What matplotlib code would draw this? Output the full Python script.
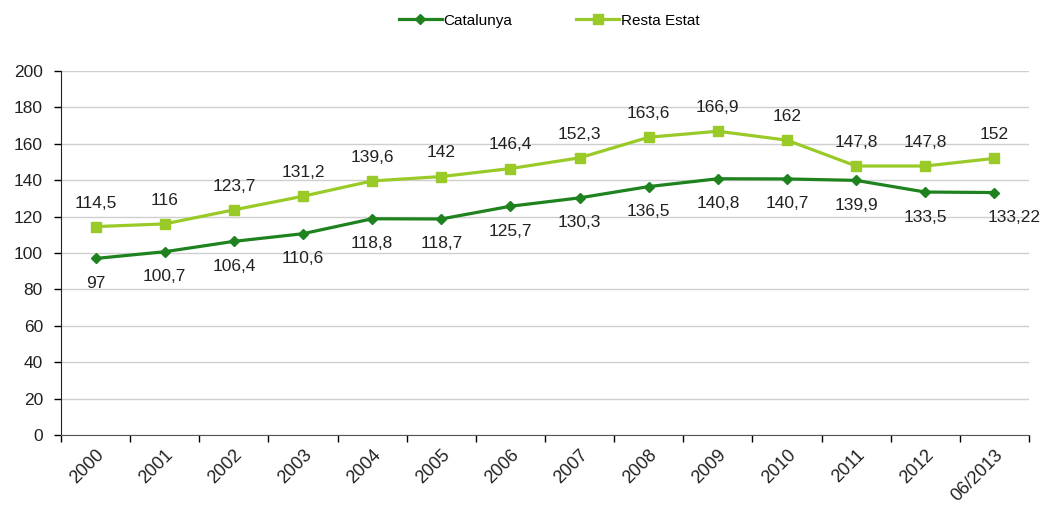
import matplotlib.pyplot as plt
import numpy as np

plt.rcParams['font.family'] = ['Liberation Sans', 'DejaVu Sans']

years = ['2000', '2001', '2002', '2003', '2004', '2005', '2006', '2007',
         '2008', '2009', '2010', '2011', '2012', '06/2013']
catalunya = [97, 100.7, 106.4, 110.6, 118.8, 118.7, 125.7, 130.3,
             136.5, 140.8, 140.7, 139.9, 133.5, 133.22]
resta = [114.5, 116, 123.7, 131.2, 139.6, 142, 146.4, 152.3,
         163.6, 166.9, 162, 147.8, 147.8, 152]

DARK = '#1E821E'
LIGHT = '#9ACA28'
TXT = '#222222'


def fmt(v):
    return ('%g' % v).replace('.', ',')


fig = plt.figure(figsize=(10.44, 5.13), dpi=100)
ax = fig.add_axes([0.0584, 0.152, 0.9272, 0.7096])

x = np.arange(len(years))
ax.plot(x, catalunya, color=DARK, lw=2.3, marker='D', ms=5.5,
        label='Catalunya', zorder=3)
ax.plot(x, resta, color=LIGHT, lw=2.3, marker='s', ms=7.5,
        label='Resta Estat', zorder=3)

for i, v in enumerate(resta):
    ax.annotate(fmt(v), (i, v), xytext=(0, 17), textcoords='offset points',
                ha='center', va='center', fontsize=12.5, color=TXT)
for i, v in enumerate(catalunya):
    dx = 14 if i == len(catalunya) - 1 else 0
    ax.annotate(fmt(v), (i, v), xytext=(dx, -18), textcoords='offset points',
                ha='center', va='center', fontsize=12.5, color=TXT)

ax.set_xlim(-0.5, len(years) - 0.5)
ax.set_ylim(0, 200)
ax.set_yticks(np.arange(0, 201, 20))
ax.set_xticks(x)
ax.set_xticklabels(years, rotation=45, ha='right', rotation_mode='anchor')
ax.set_xticks(np.arange(-0.5, len(years), 1), minor=True)
ax.tick_params(axis='x', which='major', length=0, pad=8, labelsize=13,
               labelcolor=TXT)
ax.tick_params(axis='x', which='minor', length=5, width=1, direction='out')
ax.tick_params(axis='y', length=5, width=1, pad=8, labelsize=12.5,
               labelcolor=TXT)

ax.grid(axis='y', color='#CFCFCF', lw=1)
ax.set_axisbelow(True)
for s in ['top', 'right']:
    ax.spines[s].set_visible(False)
ax.spines['left'].set_color('#222222')
ax.spines['bottom'].set_color('#555555')

fig.legend(loc='upper center', bbox_to_anchor=(0.526, 1.0), ncol=2,
           frameon=False, fontsize=11, handlelength=2.8, columnspacing=4.2,
           handletextpad=0.1)

plt.savefig('out.png', dpi=100)
